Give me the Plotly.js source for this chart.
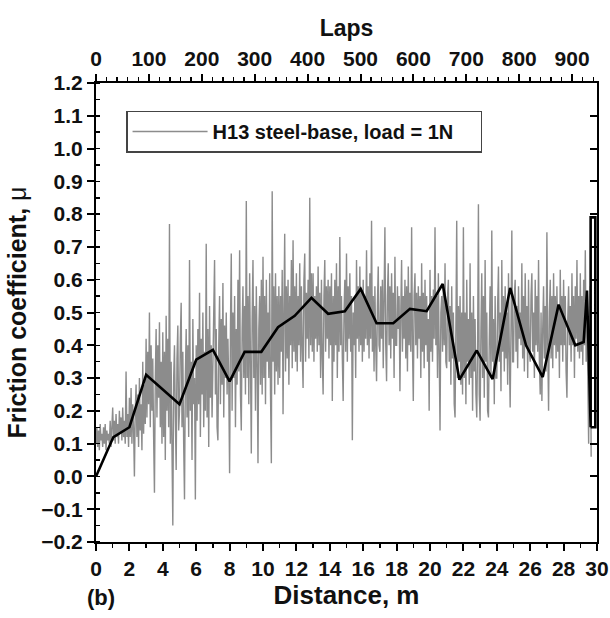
<!DOCTYPE html>
<html>
<head>
<meta charset="utf-8">
<script src="https://cdn.plot.ly/plotly-3.0.1.min.js"></script>
<style>
html,body{margin:0;padding:0;background:#fff;}
#chart{width:610px;height:618px;}
</style>
</head>
<body>
<div id="chart"></div>
<script>
// Raw friction trace (gray), sampled every 0.05 m starting at 0 m (one row = 1 m)
const rawStep = 0.05;
const rawMu = [
  0.10,0.15,0.09,0.14,0.08,0.16,0.11,0.13,0.09,0.15,0.10,0.16,0.08,0.14,0.11,0.13,0.10,0.17,0.09,0.15,
  0.21,0.11,0.17,0.10,0.19,0.12,0.16,0.10,0.20,0.13,0.18,0.11,0.21,0.12,0.17,0.10,0.32,0.12,0.19,0.09,
  0.24,0.12,0.27,0.10,0.22,0.15,0.00,0.20,0.28,0.12,0.25,0.09,0.30,0.14,0.22,0.08,0.35,0.13,0.28,0.16,
  0.42,0.18,0.38,0.22,0.50,0.15,0.40,0.20,0.36,0.12,-0.05,0.30,0.45,0.18,0.40,0.24,0.47,0.15,0.35,0.10,
  0.44,0.12,0.38,0.05,0.49,0.20,0.42,0.15,0.77,0.10,0.35,0.08,-0.15,0.30,0.40,0.18,0.02,0.36,0.46,0.14,
  0.20,0.42,0.53,0.15,0.38,0.10,-0.07,0.30,0.45,0.18,0.40,0.12,0.66,0.20,0.35,0.05,0.48,0.22,0.30,-0.07,
  0.40,0.17,0.45,0.22,0.56,0.12,0.42,0.25,0.50,0.15,0.38,0.20,0.71,0.18,0.45,0.09,0.52,0.24,0.40,0.18,
  0.35,0.50,0.66,0.25,0.45,0.15,0.11,0.40,0.55,0.22,0.48,0.28,0.59,0.18,0.46,0.30,0.50,0.25,0.42,0.28,
  0.01,0.45,0.68,0.20,0.50,0.30,0.55,0.15,0.45,0.28,0.60,0.32,0.69,0.25,0.14,0.45,0.58,0.30,0.52,0.25,
  0.84,0.30,0.55,0.22,0.62,0.35,0.07,0.48,0.66,0.30,0.52,0.20,0.58,0.35,0.04,0.45,0.55,0.28,0.60,0.25,
  0.67,0.30,0.55,0.22,0.60,0.35,0.50,0.30,0.62,0.25,0.04,0.87,0.35,0.58,0.25,0.62,0.32,0.55,0.28,0.58,
  0.30,0.55,0.38,0.63,0.19,0.50,0.74,0.32,0.58,0.36,0.60,0.28,0.55,0.40,0.66,0.33,0.72,0.38,0.58,0.35,
  0.62,0.32,0.55,0.40,0.65,0.35,0.58,0.38,0.27,0.60,0.68,0.35,0.56,0.42,0.60,0.36,0.85,0.40,0.62,0.38,
  0.62,0.35,0.55,0.42,0.58,0.38,0.64,0.40,0.56,0.30,0.60,0.36,0.25,0.55,0.66,0.38,0.58,0.42,0.60,0.36,
  0.58,0.40,0.62,0.23,0.55,0.35,0.60,0.40,0.65,0.30,0.58,0.38,0.73,0.40,0.55,0.36,0.23,0.50,0.60,0.38,
  0.68,0.35,0.58,0.42,0.62,0.38,0.55,0.11,0.50,0.40,0.55,0.30,0.66,0.42,0.58,0.38,0.64,0.40,0.56,0.35,
  0.60,0.38,0.55,0.42,0.69,0.40,0.58,0.36,0.62,0.42,0.78,0.38,0.55,0.32,0.58,0.40,0.29,0.52,0.64,0.40,
  0.38,0.58,0.42,0.60,0.33,0.55,0.76,0.40,0.29,0.55,0.65,0.40,0.58,0.36,0.62,0.42,0.56,0.30,0.67,0.40,
  0.40,0.58,0.45,0.55,0.26,0.50,0.66,0.38,0.55,0.42,0.60,0.36,0.58,0.32,0.64,0.40,0.56,0.38,0.76,0.40,
  0.23,0.55,0.62,0.40,0.56,0.36,0.58,0.42,0.55,0.30,0.65,0.38,0.56,0.33,0.60,0.40,0.55,0.35,0.48,0.20,
  0.63,0.38,0.55,0.35,0.57,0.42,0.76,0.40,0.55,0.30,0.62,0.38,0.14,0.50,0.55,0.38,0.58,0.40,0.65,0.35,
  0.33,0.55,0.60,0.35,0.52,0.28,0.58,0.36,0.50,0.22,0.18,0.45,0.78,0.30,0.52,0.35,0.55,0.28,0.50,0.25,
  0.76,0.30,0.50,0.22,0.60,0.35,0.48,0.28,0.65,0.30,0.50,0.20,0.55,0.32,0.48,0.25,0.18,0.40,0.83,0.25,
  0.17,0.45,0.62,0.30,0.55,0.24,0.66,0.35,0.50,0.20,0.18,0.42,0.58,0.30,0.75,0.35,0.48,0.22,0.55,0.30,
  0.30,0.52,0.64,0.35,0.50,0.26,0.66,0.38,0.55,0.32,0.58,0.36,0.50,0.28,0.62,0.38,0.21,0.45,0.75,0.35,
  0.35,0.55,0.60,0.38,0.52,0.33,0.58,0.42,0.50,0.40,0.65,0.36,0.55,0.32,0.62,0.40,0.52,0.30,0.60,0.38,
  0.35,0.55,0.62,0.38,0.50,0.30,0.60,0.40,0.55,0.38,0.66,0.35,0.25,0.50,0.23,0.45,0.58,0.36,0.52,0.32,
  0.745,0.40,0.20,0.50,0.60,0.36,0.55,0.33,0.62,0.40,0.55,0.36,0.58,0.38,0.52,0.30,0.63,0.40,0.55,0.35,
  0.60,0.40,0.55,0.32,0.24,0.48,0.58,0.40,0.52,0.35,0.62,0.40,0.55,0.30,0.58,0.42,0.66,0.38,0.55,0.36,
  0.62,0.38,0.55,0.34,0.60,0.40,0.69,0.35,0.52,0.30,0.10,0.45,0.58,0.06
];
const rawDist = rawMu.map((_, i) => +(i * rawStep).toFixed(2));

// Averaged friction (black line)
const avgDist = [0, 1.04, 2.0, 3.0, 5.0, 6.0, 7.0, 8.0, 8.9, 9.9, 10.9, 11.9, 12.9, 13.9, 14.9,
  15.85, 16.8, 17.8, 18.8, 19.8, 20.76, 21.76, 22.8, 23.75, 24.8, 25.75, 26.75, 27.7, 28.7,
  29.2, 29.4, 29.62, 29.62, 29.9, 29.9, 29.62];
const avgMu = [0.0, 0.12, 0.15, 0.31, 0.22, 0.356, 0.386, 0.29, 0.38, 0.38, 0.455, 0.49, 0.545, 0.496, 0.504,
  0.572, 0.467, 0.467, 0.511, 0.504, 0.587, 0.295, 0.384, 0.297, 0.575, 0.40, 0.303, 0.524, 0.40,
  0.41, 0.567, 0.15, 0.79, 0.79, 0.15, 0.15];

// Axes
const distRange = [0, 30];
const muRange = [-0.2, 1.2];
const lapsRange = [0, 947];
const seriesName = 'H13 steel-base, load = 1N';

const F = 'Liberation Sans, Arial, sans-serif';
const tickFont = {family: F, size: 21, color: '#111', weight: 'bold'};

const traces = [
  {x: rawDist, y: rawMu, type: 'scatter', mode: 'lines', name: seriesName + '\u00a0\u00a0\u00a0\u00a0',
   line: {color: '#8c8c8c', width: 1.4}, hoverinfo: 'skip'},
  {x: avgDist, y: avgMu, type: 'scatter', mode: 'lines', showlegend: false,
   line: {color: '#000', width: 2.6}, hoverinfo: 'skip'},
  {x: lapsRange, y: [null, null], xaxis: 'x2', yaxis: 'y', type: 'scatter', mode: 'lines',
   showlegend: false, hoverinfo: 'skip'},
  {x: distRange, y: [null, null], xaxis: 'x', yaxis: 'y2', type: 'scatter', mode: 'lines',
   showlegend: false, hoverinfo: 'skip'}
];

const layout = {
  width: 610, height: 618,
  margin: {l: 96, r: 13, t: 83, b: 76},
  paper_bgcolor: '#fff', plot_bgcolor: '#fff',
  font: {family: F, color: '#111'},
  showlegend: true,
  legend: {x: 0.06, y: 0.94, xanchor: 'left', yanchor: 'top',
    bgcolor: '#fff', bordercolor: '#444', borderwidth: 1.5,
    font: {family: F, size: 20, color: '#111', weight: 'bold'}, itemwidth: 75},
  xaxis: {range: distRange, dtick: 2, tick0: 0, showgrid: false, zeroline: false,
    showline: true, linecolor: '#000', linewidth: 2,
    ticks: 'outside', ticklen: 7, tickwidth: 2, tickcolor: '#000',
    minor: {dtick: 1, ticks: 'outside', ticklen: 4, tickwidth: 1.5, tickcolor: '#000'},
    tickfont: tickFont,
    title: {text: 'Distance, m', font: {family: F, size: 26, weight: 'bold', color: '#111'}, standoff: 5}},
  xaxis2: {range: lapsRange, overlaying: 'x', side: 'top', anchor: 'y', dtick: 100, tick0: 0,
    showgrid: false, zeroline: false, showline: true, linecolor: '#000', linewidth: 2,
    ticks: 'outside', ticklen: 7, tickwidth: 2, tickcolor: '#000',
    minor: {dtick: 20, ticks: 'outside', ticklen: 4, tickwidth: 1.5, tickcolor: '#000'},
    tickfont: tickFont,
    title: {text: 'Laps', font: {family: F, size: 23, weight: 'bold', color: '#111'}, standoff: 4}},
  yaxis: {range: muRange, dtick: 0.1, tick0: 0, tickformat: '.1f', showgrid: false, zeroline: false,
    showline: true, linecolor: '#000', linewidth: 2,
    ticks: 'outside', ticklen: 7, tickwidth: 2, tickcolor: '#000',
    minor: {dtick: 0.05, ticks: 'inside', ticklen: 4, tickwidth: 1.5, tickcolor: '#000'},
    tickfont: tickFont,
    title: {text: 'Friction coefficient, <span style="font-weight:normal">μ</span>',
      font: {family: F, size: 25, weight: 'bold', color: '#111'}, standoff: 8}},
  yaxis2: {range: muRange, overlaying: 'y', side: 'right', anchor: 'x', dtick: 0.1, tick0: 0,
    showgrid: false, zeroline: false, showline: true, linecolor: '#000', linewidth: 2,
    ticks: 'inside', ticklen: 7, tickwidth: 2, tickcolor: '#000', showticklabels: false},
  annotations: [
    {text: '(b)', xref: 'paper', yref: 'paper', x: 0.01, y: -0.122, xanchor: 'center', yanchor: 'middle',
     showarrow: false, font: {family: F, size: 22, weight: 'bold', color: '#111'}}
  ]
};

Plotly.newPlot('chart', traces, layout, {staticPlot: true});
</script>
</body>
</html>
